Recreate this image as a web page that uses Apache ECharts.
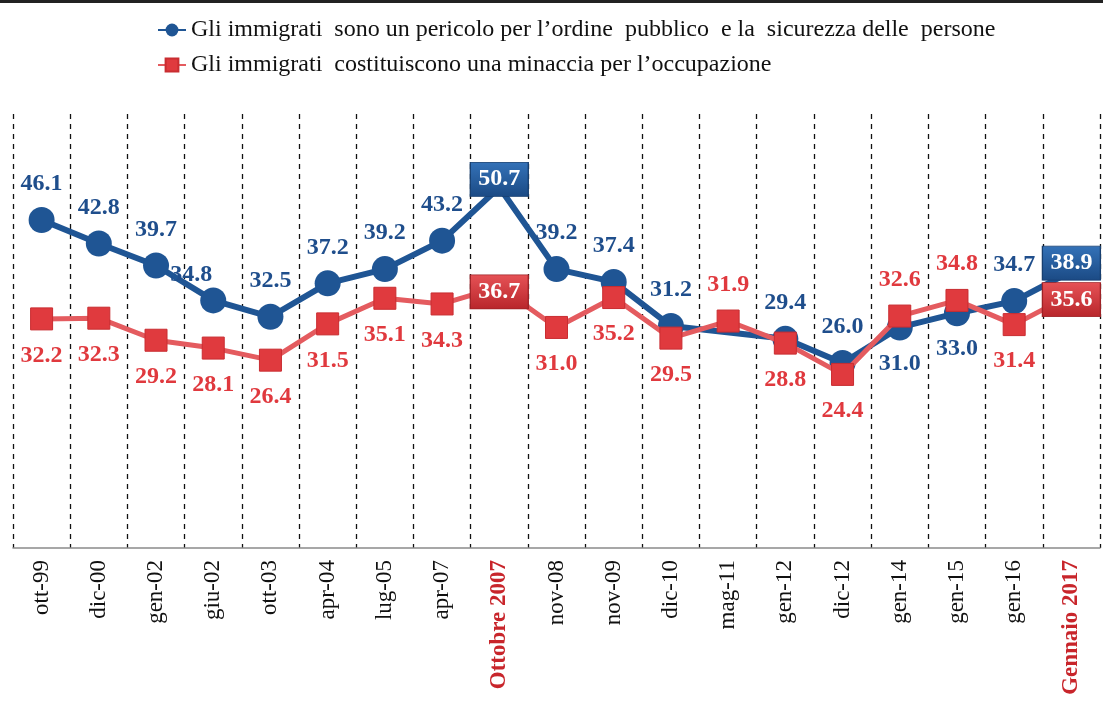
<!DOCTYPE html>
<html>
<head>
<meta charset="utf-8">
<title>Immigrati</title>
<script src="https://cdn.jsdelivr.net/npm/echarts@6/dist/echarts.min.js"></script>
<style>
  html, body { margin: 0; padding: 0; background: #fff; }
  #chart { width: 1103px; height: 704px; }
</style>
</head>
<body>
<div id="chart"></div>
<script>
  var categories = ['ott-99','dic-00','gen-02','giu-02','ott-03','apr-04','lug-05','apr-07','Ottobre 2007',
    'nov-08','nov-09','dic-10','mag-11','gen-12','dic-12','gen-14','gen-15','gen-16','Gennaio 2017'];
  var sicurezza = [46.1, 42.8, 39.7, 34.8, 32.5, 37.2, 39.2, 43.2, 50.7, 39.2, 37.4, 31.2, null, 29.4, 26.0, 31.0, 33.0, 34.7, 38.9];
  var occupazione = [32.2, 32.3, 29.2, 28.1, 26.4, 31.5, 35.1, 34.3, 36.7, 31.0, 35.2, 29.5, 31.9, 28.8, 24.4, 32.6, 34.8, 31.4, 35.6];
  var highlight = [8, 18];

  // dove mettere le etichette (t = sopra, b = sotto)
  var blueSide = ['t','t','t','t','t','t','t','t','t','t','t','t','t','t','t','b','b','t','t'];
  var redSide  = ['b','b','b','b','b','b','b','b','b','b','b','b','t','b','b','t','t','b','b'];

  var BLUE = '#1f5594', RED = '#e03a3e';
  var FONT = '"Liberation Serif", "Times New Roman", serif';

  var chart = echarts.init(document.getElementById('chart'));

  function makeData(values, side, color, isBlue) {
    return values.map(function (v, i) {
      if (v === null) return null;
      if (highlight.indexOf(i) >= 0) {
        var off = isBlue ? [0, -8] : [0, 5];
        return {
          value: v,
          symbol: 'rect',
          symbolSize: [58, 34],
          symbolOffset: off,
          itemStyle: {
            color: new echarts.graphic.LinearGradient(0, 0, 0, 1, isBlue
              ? [{offset: 0, color: '#3472b8'}, {offset: 1, color: '#1b4a84'}]
              : [{offset: 0, color: '#e65256'}, {offset: 1, color: '#b8262b'}]),
            borderColor: isBlue ? '#173f70' : '#9e2226',
            borderWidth: 1
          },
          label: {
            position: 'inside',
            color: '#fff',
            fontSize: 24
          }
        };
      }
      var item = { value: v, label: { position: side[i] === 't' ? 'top' : 'bottom' } };
      if (isBlue && i === 3) item.label.offset = [-22, 10];
      return item;
    });
  }

  var option = {
    animation: false,
    graphic: [{
      type: 'rect', shape: {x: 0, y: 0, width: 1103, height: 3}, style: {fill: '#222'}
    }],
    legend: {
      orient: 'vertical',
      left: 152,
      top: 13,
      itemGap: 11,
      itemWidth: 28,
      itemHeight: 16,
      textStyle: { fontFamily: FONT, fontSize: 24, color: '#111' },
      data: [
        'Gli immigrati  sono un pericolo per l\u2019ordine  pubblico  e la  sicurezza delle  persone',
        'Gli immigrati  costituiscono una minaccia per l\u2019occupazione'
      ]
    },
    grid: { left: 13, right: 3, top: 114, bottom: 156, outerBoundsMode: 'none' },
    xAxis: {
      type: 'category',
      data: categories,
      boundaryGap: true,
      axisLine: { lineStyle: { color: '#8a8a8a', width: 1.5 } },
      axisTick: { length: 5, lineStyle: { color: '#8a8a8a' } },
      splitLine: { show: true, lineStyle: { color: '#111', type: [5, 5], width: 1.3 } },
      axisLabel: {
        rotate: 90,
        margin: 12,
        interval: 0,
        fontFamily: FONT,
        fontSize: 23,
        color: '#111',
        formatter: function (v, i) {
          return highlight.indexOf(i) >= 0 ? '{hl|' + v + '}' : v;
        },
        rich: {
          hl: { color: '#c8252b', fontWeight: 'bold', fontFamily: FONT, fontSize: 23 }
        }
      }
    },
    yAxis: {
      type: 'value',
      min: 0,
      max: 61,
      show: false,
      splitLine: { show: false }
    },
    series: [
      {
        name: 'Gli immigrati  sono un pericolo per l\u2019ordine  pubblico  e la  sicurezza delle  persone',
        type: 'line',
        data: makeData(sicurezza, blueSide, BLUE, true),
        connectNulls: true,
        symbol: 'circle',
        symbolSize: 26,
        z: 3,
        lineStyle: { color: BLUE, width: 6 },
        itemStyle: { color: BLUE },
        label: {
          show: true,
          distance: 11,
          fontFamily: FONT,
          fontSize: 24,
          fontWeight: 'bold',
          color: '#1f4e8c',
          formatter: function (p) { return p.value.toFixed(1); }
        }
      },
      {
        name: 'Gli immigrati  costituiscono una minaccia per l\u2019occupazione',
        type: 'line',
        data: makeData(occupazione, redSide, RED, false),
        symbol: 'rect',
        symbolSize: 22,
        z: 4,
        lineStyle: { color: '#e45b5f', width: 5 },
        itemStyle: { color: RED, borderColor: '#c92d31', borderWidth: 1 },
        label: {
          show: true,
          distance: 13,
          fontFamily: FONT,
          fontSize: 24,
          fontWeight: 'bold',
          color: '#e0393e',
          formatter: function (p) { return p.value.toFixed(1); }
        }
      }
    ]
  };

  chart.setOption(option);
</script>
</body>
</html>
